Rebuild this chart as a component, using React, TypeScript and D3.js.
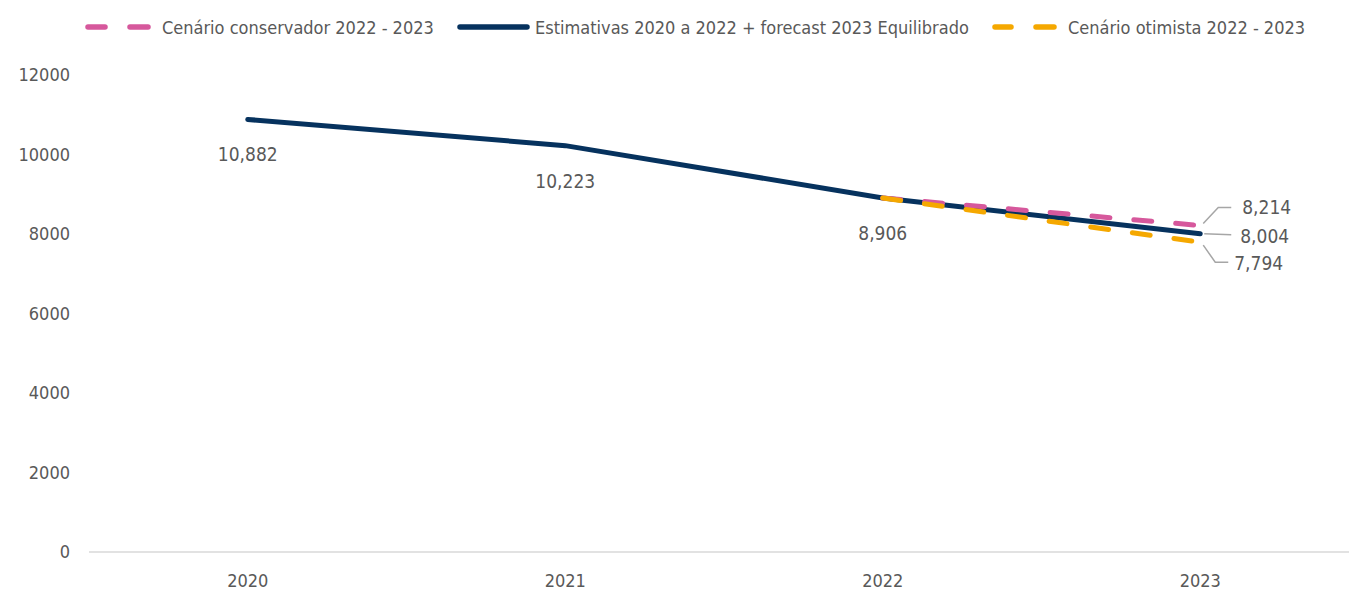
import React from "react";
import * as d3 from "d3";

const years = ["2020", "2021", "2022", "2023"];
const mainValues = [10882, 10223, 8906, 8004];
const conservYears = ["2022", "2023"];
const conservValues = [8906, 8214];
const otimYears = ["2022", "2023"];
const otimValues = [8906, 7794];
const yTicks = [0, 2000, 4000, 6000, 8000, 10000, 12000];
const legendLabels = [
  "Cenário conservador 2022 - 2023",
  "Estimativas 2020 a 2022 + forecast 2023 Equilibrado",
  "Cenário otimista 2022 - 2023",
];

const W = 1349;
const H = 590;
const NAVY = "#06325E";
const PINK = "#D6589C";
const ORANGE = "#F5A800";
const TXT = "#595959";
const FONT = "'DejaVu Sans Condensed', 'DejaVu Sans', Verdana, sans-serif";

export default function App() {
  const x = d3.scaleBand<string>().domain(years).range([89, 1359]);
  const y = d3.scaleLinear().domain([0, 12000]).range([552, 75]);
  const cx = (d: string) => (x(d) as number) + x.bandwidth() / 2;

  const line = d3
    .line<[string, number]>()
    .x((d) => cx(d[0]))
    .y((d) => y(d[1]));

  const mainPts = years.map((d, i) => [d, mainValues[i]] as [string, number]);
  const consPts = conservYears.map((d, i) => [d, conservValues[i]] as [string, number]);
  const otimPts = otimYears.map((d, i) => [d, otimValues[i]] as [string, number]);

  const lastX = cx("2023");
  const fmt = d3.format(",");
  const LY = 27;

  return (
    <svg width={W} height={H} style={{ position: "absolute", left: 0, top: 0 }} fontFamily={FONT}>
      <rect width={W} height={H} fill="#fff" />
      {/* legend */}
      <g fontSize={18} fill={TXT}>
        <line x1={88} x2={105} y1={LY} y2={LY} stroke={PINK} strokeWidth={5.5} strokeLinecap="round" />
        <line x1={130} x2={148} y1={LY} y2={LY} stroke={PINK} strokeWidth={5.5} strokeLinecap="round" />
        <text x={162} y={33.5}>{legendLabels[0]}</text>
        <line x1={460} x2={527} y1={LY} y2={LY} stroke={NAVY} strokeWidth={5.5} strokeLinecap="round" />
        <text x={535} y={33.5}>{legendLabels[1]}</text>
        <line x1={995} x2={1011} y1={LY} y2={LY} stroke={ORANGE} strokeWidth={5.5} strokeLinecap="round" />
        <line x1={1036} x2={1054} y1={LY} y2={LY} stroke={ORANGE} strokeWidth={5.5} strokeLinecap="round" />
        <text x={1068} y={33.5}>{legendLabels[2]}</text>
      </g>
      {/* y axis labels */}
      <g fontSize={18} fill={TXT} textAnchor="end">
        {yTicks.map((t) => (
          <text key={t} x={70} y={y(t) + 6}>
            {t}
          </text>
        ))}
      </g>
      {/* baseline */}
      <line x1={89} x2={1349} y1={y(0)} y2={y(0)} stroke="#D9D9D9" strokeWidth={1.5} />
      {/* x labels */}
      <g fontSize={18} fill={TXT} textAnchor="middle">
        {years.map((d) => (
          <text key={d} x={cx(d)} y={587}>
            {d}
          </text>
        ))}
      </g>
      {/* lines */}
      <path d={line(mainPts) || ""} fill="none" stroke={NAVY} strokeWidth={5} strokeLinecap="round" />
      <path d={line(consPts) || ""} fill="none" stroke={PINK} strokeWidth={5} strokeDasharray="18 24" strokeLinecap="round" />
      <path d={line(otimPts) || ""} fill="none" stroke={ORANGE} strokeWidth={5} strokeDasharray="18 24" strokeLinecap="round" />
      {/* data labels main */}
      <g fontSize={19} fill={TXT} textAnchor="middle">
        {years.slice(0, 3).map((d, i) => (
          <text key={d} x={cx(d)} y={y(mainValues[i]) + 42}>
            {fmt(mainValues[i])}
          </text>
        ))}
      </g>
      {/* leader lines and right labels */}
      <g stroke="#A6A6A6" strokeWidth={1.5} fill="none">
        <polyline points={`${lastX + 3},${y(conservValues[1]) - 2} ${lastX + 18},${y(conservValues[1]) - 18} ${lastX + 31},${y(conservValues[1]) - 18}`} />
        <polyline points={`${lastX + 4},${y(mainValues[3])} ${lastX + 31},${y(mainValues[3]) + 1}`} />
        <polyline points={`${lastX + 3},${y(otimValues[1]) + 3} ${lastX + 15},${y(otimValues[1]) + 20} ${lastX + 28},${y(otimValues[1]) + 20}`} />
      </g>
      <g fontSize={19} fill={TXT}>
        <text x={lastX + 42} y={y(conservValues[1]) - 11}>{fmt(conservValues[1])}</text>
        <text x={lastX + 40} y={y(mainValues[3]) + 9}>{fmt(mainValues[3])}</text>
        <text x={lastX + 34} y={y(otimValues[1]) + 28}>{fmt(otimValues[1])}</text>
      </g>
    </svg>
  );
}
